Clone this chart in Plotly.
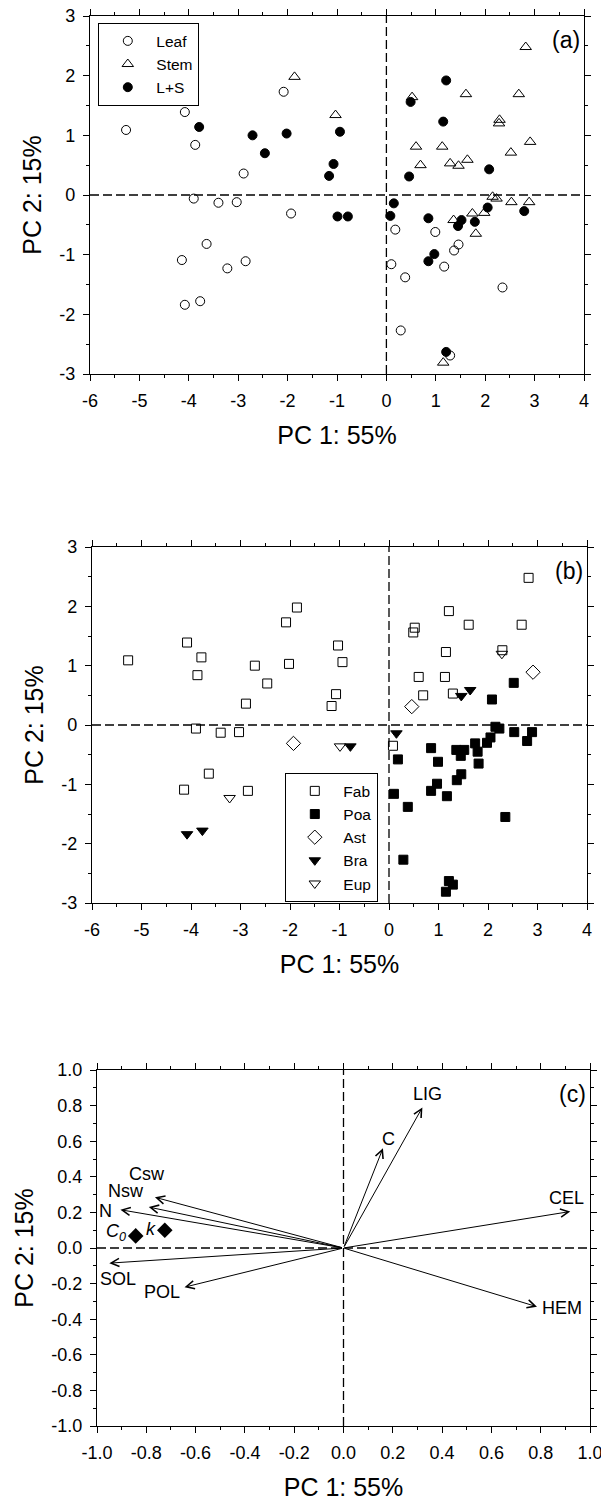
import plotly.graph_objects as go

# ---------------- data ----------------
# PCA scores (75 litter samples): PC1, PC2, organ and plant family
pc1 = [-5.27, -4.08, -3.87, -2.89, -2.08, -3.90, -3.40, -3.03, -1.93, -3.64,
       -4.14, -3.22, -2.85, -3.77, -4.08,
       0.18, 0.99, 1.46, 1.37, 0.10, 1.17, 0.38, 2.35, 0.29, 1.29,
       -1.86, -1.03, 2.82, 1.61, 2.68, 0.52, 2.29, 2.28, 2.91, 0.60,
       1.13, 2.52, 0.69, 1.29, 1.46, 1.64, 2.15, 2.23, 2.53, 2.89,
       1.98, 1.74, 1.36, 1.81, 1.15,
       -3.79, -2.71, -2.46, -2.02, -0.94, -1.07, -1.16, -0.99, -0.78, 1.21,
       0.49, 1.15, 2.08, 0.46, 0.15, 0.08, 0.85, 1.52, 1.45, 1.79,
       2.05, 2.79, 0.97, 0.85, 1.21]
pc2 = [1.09, 1.39, 0.84, 0.36, 1.73, -0.06, -0.13, -0.12, -0.31, -0.82,
       -1.09, -1.23, -1.11, -1.78, -1.84,
       -0.58, -0.62, -0.83, -0.93, -1.16, -1.20, -1.38, -1.55, -2.27, -2.69,
       1.98, 1.34, 2.48, 1.69, 1.69, 1.64, 1.26, 1.20, 0.89, 0.81,
       0.81, 0.71, 0.50, 0.53, 0.49, 0.59, -0.03, -0.06, -0.12, -0.12,
       -0.30, -0.31, -0.42, -0.65, -2.81,
       1.14, 1.00, 0.70, 1.03, 1.06, 0.52, 0.32, -0.36, -0.36, 1.92,
       1.56, 1.23, 0.43, 0.31, -0.14, -0.35, -0.39, -0.42, -0.52, -0.45,
       -0.21, -0.27, -0.99, -1.11, -2.63]
organ = ["Leaf"] * 25 + ["Stem"] * 25 + ["L+S"] * 25
family = ["Fab", "Fab", "Fab", "Fab", "Fab", "Fab", "Fab", "Fab", "Ast", "Fab",
          "Fab", "Eup", "Fab", "Bra", "Bra",
          "Poa", "Poa", "Poa", "Poa", "Poa", "Poa", "Poa", "Poa", "Poa", "Poa",
          "Fab", "Fab", "Fab", "Fab", "Fab", "Fab", "Fab", "Eup", "Ast", "Fab",
          "Fab", "Poa", "Fab", "Fab", "Bra", "Bra", "Poa", "Poa", "Poa", "Poa",
          "Poa", "Poa", "Poa", "Poa", "Poa",
          "Fab", "Fab", "Fab", "Fab", "Fab", "Fab", "Fab", "Eup", "Bra", "Fab",
          "Fab", "Fab", "Poa", "Ast", "Bra", "Fab", "Poa", "Poa", "Poa", "Poa",
          "Poa", "Poa", "Poa", "Poa", "Poa"]

organ_order = ["Leaf", "Stem", "L+S"]
family_order = ["Fab", "Poa", "Ast", "Bra", "Eup"]

# PCA loadings (panel c)
var_names = ["LIG", "C", "CEL", "HEM", "Csw", "Nsw", "N", "SOL", "POL"]
load_pc1 = [0.32, 0.16, 0.92, 0.785, -0.765, -0.79, -0.905, -0.95, -0.645]
load_pc2 = [0.79, 0.56, 0.205, -0.33, 0.285, 0.23, 0.215, -0.085, -0.22]

# passive variables (panel c)
pass_names = ["<i>C<sub>0</sub></i>", "<i>k</i>"]
pass_pc1 = [-0.843, -0.725]
pass_pc2 = [0.068, 0.10]

# tick labels
score_xticks = [-6, -5, -4, -3, -2, -1, 0, 1, 2, 3, 4]
score_xlabels = ["-6", "-5", "-4", "-3", "-2", "-1", "0", "1", "2", "3", "4"]
score_yticks = [-3, -2, -1, 0, 1, 2, 3]
score_ylabels = ["-3", "-2", "-1", "0", "1", "2", "3"]
load_ticks = [-1.0, -0.8, -0.6, -0.4, -0.2, 0.0, 0.2, 0.4, 0.6, 0.8, 1.0]
load_labels = ["-1.0", "-0.8", "-0.6", "-0.4", "-0.2", "0.0", "0.2", "0.4", "0.6", "0.8", "1.0"]

panel_tags = ["(a)", "(b)", "(c)"]
x_title = "PC 1: 55%"
y_title = "PC 2: 15%"

# ---------------- styles ----------------
# the page body has an 8px default margin, so the figure starts 8px in
OFF = 8
W, H = 609 - OFF, 1501 - OFF
FONT = "Liberation Sans, Arial, sans-serif"
organ_style = {
    "Leaf": dict(symbol="circle-open", size=9),
    "Stem": dict(symbol="triangle-up-open", size=10),
    "L+S": dict(symbol="circle", size=9),
}
family_style = {
    "Fab": dict(symbol="square-open", size=9),
    "Poa": dict(symbol="square", size=9),
    "Ast": dict(symbol="diamond-open", size=11),
    "Bra": dict(symbol="triangle-down", size=10),
    "Eup": dict(symbol="triangle-down-open", size=10),
}
# label offsets (pixels) for loading labels: (xshift, yshift, xanchor)
label_pos = {
    "LIG": (5, 13, "center"), "C": (6, 9, "center"), "CEL": (-4, 14, "center"),
    "HEM": (3, -1, "left"), "Csw": (-8, 23, "center"), "Nsw": (-23, 16, "center"),
    "N": (-6, -1, "right"), "SOL": (9, -16, "center"), "POL": (-3, -5, "right"),
}
pass_label_pos = [(-8, 3, "right"), (-7, 1, "right")]


def xdom(a, b):
    return [(a - OFF) / W, (b - OFF) / W]


def ydom(top, bottom):
    return [1 - (bottom - OFF) / H, 1 - (top - OFF) / H]


panels = [
    dict(x=xdom(90, 584), y=ydom(16, 374)),
    dict(x=xdom(92, 587), y=ydom(547, 903)),
    dict(x=xdom(97, 590), y=ydom(1070, 1426)),
]

fig = go.Figure()

for org in organ_order:
    idx = [i for i, o in enumerate(organ) if o == org]
    fig.add_trace(go.Scatter(
        x=[pc1[i] for i in idx], y=[pc2[i] for i in idx], mode="markers",
        name=org, xaxis="x", yaxis="y", legend="legend",
        marker=dict(color="black", line=dict(color="black", width=1),
                    **organ_style[org]),
        cliponaxis=False))

for fam in family_order:
    idx = [i for i, f in enumerate(family) if f == fam]
    fig.add_trace(go.Scatter(
        x=[pc1[i] for i in idx], y=[pc2[i] for i in idx], mode="markers",
        name=fam, xaxis="x2", yaxis="y2", legend="legend2",
        marker=dict(color="black", line=dict(color="black", width=1),
                    **family_style[fam]),
        cliponaxis=False))

fig.add_trace(go.Scatter(
    x=pass_pc1, y=pass_pc2, mode="markers", xaxis="x3", yaxis="y3",
    showlegend=False, marker=dict(symbol="diamond", size=12, color="black")))

axis_common = dict(
    showline=True, linecolor="black", linewidth=1.3, mirror="ticks",
    ticks="outside", ticklen=6, tickwidth=1, tickcolor="black",
    showgrid=False, zeroline=False, ticklabelstandoff=4, automargin=False,
    ticklabeloverflow="allow",
    tickfont=dict(family=FONT, size=18, color="black"),
)
title_font = dict(family=FONT, size=25, color="black")

layout = dict(
    width=W, height=H, autosize=False,
    margin=dict(l=0, r=0, t=0, b=0),
    paper_bgcolor="white", plot_bgcolor="white",
    font=dict(family=FONT, color="black"),
)
for k, p in enumerate(panels):
    s = "" if k == 0 else str(k + 1)
    if k < 2:
        xr, xt, xl, xm = [-6, 4], score_xticks, score_xlabels, 0.5
        yr, yt, yl, ym = [-3, 3], score_yticks, score_ylabels, 0.5
    else:
        xr, xt, xl, xm = [-1, 1], load_ticks, load_labels, 0.1
        yr, yt, yl, ym = [-1, 1], load_ticks, load_labels, 0.1
    layout["xaxis" + s] = dict(
        axis_common, domain=p["x"], range=xr, tickvals=xt, ticktext=xl,
        anchor="y" + s,
        minor=dict(dtick=xm, ticks="outside", ticklen=3, tickcolor="black"),
        title=dict(text=x_title, font=title_font, standoff=16))
    layout["yaxis" + s] = dict(
        axis_common, domain=p["y"], range=yr, tickvals=yt, ticktext=yl,
        anchor="x" + s,
        minor=dict(dtick=ym, ticks="outside", ticklen=3, tickcolor="black"),
        title=dict(text=y_title, font=title_font, standoff=10))

legend_common = dict(
    xanchor="left", yanchor="top",
    bordercolor="black", borderwidth=1.3, bgcolor="white",
    font=dict(family=FONT, size=15.5, color="black"),
    itemwidth=47, tracegroupgap=0)
layout["legend"] = dict(legend_common, x=(98 - OFF) / W, y=1 - (23 - OFF) / H)
layout["legend2"] = dict(legend_common, x=(285 - OFF) / W, y=1 - (773 - OFF) / H)

fig.update_layout(**layout)

# dashed zero lines and panel tags
for k in range(3):
    s = "" if k == 0 else str(k + 1)
    fig.add_shape(type="line", xref="x" + s + " domain", x0=0, x1=1,
                  yref="y" + s, y0=0, y1=0,
                  line=dict(color="black", width=1.3, dash="9px,4px"))
    fig.add_shape(type="line", yref="y" + s + " domain", y0=0, y1=1,
                  xref="x" + s, x0=0, x1=0,
                  line=dict(color="black", width=1.3, dash="9px,4px"))
    fig.add_annotation(text=panel_tags[k], xref="x" + s + " domain",
                       yref="y" + s + " domain", x=0.995, y=1 - 24 / 356,
                       xanchor="right", yanchor="middle", showarrow=False,
                       font=dict(family=FONT, size=23, color="black"))

# loading arrows and labels
for name, lx, ly in zip(var_names, load_pc1, load_pc2):
    fig.add_annotation(x=lx, y=ly, ax=0, ay=0, xref="x3", yref="y3",
                       axref="x3", ayref="y3", text="", showarrow=True,
                       arrowhead=5, arrowsize=1.6, arrowwidth=1,
                       arrowcolor="black", standoff=0, startstandoff=0)
    dx, dy, anc = label_pos[name]
    fig.add_annotation(x=lx, y=ly, xref="x3", yref="y3", text=name,
                       showarrow=False, xshift=dx, yshift=dy, xanchor=anc,
                       font=dict(family=FONT, size=18, color="black"))

for (name, px_, py_), (dx, dy, anc) in zip(zip(pass_names, pass_pc1, pass_pc2), pass_label_pos):
    fig.add_annotation(x=px_, y=py_, xref="x3", yref="y3", text=name,
                       showarrow=False, xshift=dx, yshift=dy, xanchor=anc,
                       font=dict(family=FONT, size=18, color="black"))

fig.write_html("out.html")
